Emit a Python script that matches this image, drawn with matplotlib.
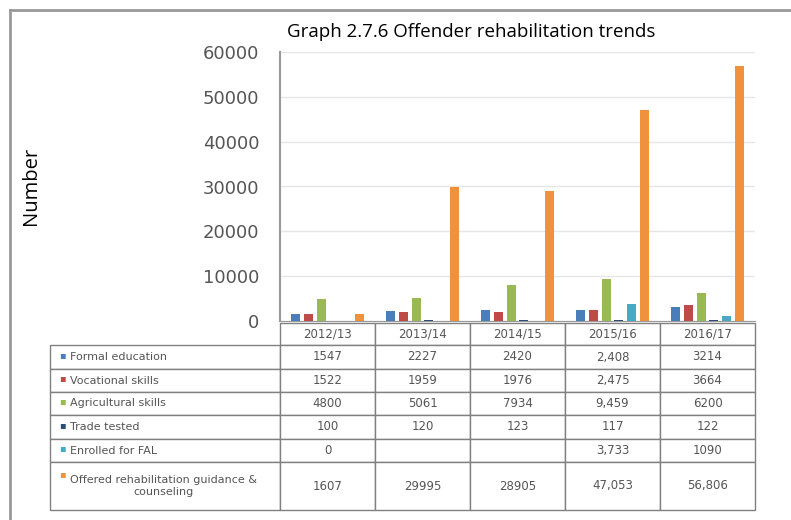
import numpy as np
import matplotlib.pyplot as plt
from matplotlib.lines import Line2D

years = ['2012/13', '2013/14', '2014/15', '2015/16', '2016/17']
series = ['Formal education', 'Vocational skills', 'Agricultural skills',
          'Trade tested', 'Enrolled for FAL',
          'Offered rehabilitation guidance &\ncounseling']
formal_education = [1547, 2227, 2420, 2408, 3214]
vocational_skills = [1522, 1959, 1976, 2475, 3664]
agricultural_skills = [4800, 5061, 7934, 9459, 6200]
trade_tested = [100, 120, 123, 117, 122]
enrolled_fal = [0, np.nan, np.nan, 3733, 1090]
offered_guidance = [1607, 29995, 28905, 47053, 56806]
# table text as printed in the source
table_text = [
    ['1547', '2227', '2420', '2,408', '3214'],
    ['1522', '1959', '1976', '2,475', '3664'],
    ['4800', '5061', '7934', '9,459', '6200'],
    ['100', '120', '123', '117', '122'],
    ['0', '', '', '3,733', '1090'],
    ['1607', '29995', '28905', '47,053', '56,806'],
]
colors = ['#4A7EBB', '#BE4B48', '#98B954', '#2C4D75', '#46AAC5', '#F0923D']

values = [formal_education, vocational_skills, agricultural_skills,
          trade_tested, enrolled_fal, offered_guidance]

fig = plt.figure(figsize=(7.91, 5.2), dpi=100)
ax = fig.add_axes([280 / 791, 1 - 321 / 520, 475 / 791, 269 / 520])

x = np.arange(len(years))
step = 0.133
width = 0.095
for i, (vals, c) in enumerate(zip(values, colors)):
    ax.bar(x + (i - 2.5) * step, vals, width=width, color=c, zorder=3)

ax.set_xlim(-0.5, len(years) - 0.5)
ax.set_ylim(0, 60000)
ax.set_yticks(np.arange(0, 60001, 10000))
ax.tick_params(axis='y', labelsize=13, colors='#555555', length=0, pad=15)
ax.set_xticks([])
ax.grid(axis='y', color='#e6e6e6', linewidth=1, zorder=0)
for s in ['top', 'right']:
    ax.spines[s].set_visible(False)
ax.spines['left'].set_color('#999999')
ax.spines['left'].set_linewidth(1.5)
ax.spines['bottom'].set_color('#999999')

# data table under the axis
tbl = ax.table(cellText=[[lab] + row for lab, row in zip(series, table_text)],
               colLabels=[''] + years,
               colWidths=[230 / 705] + [95 / 705] * 5,
               cellLoc='center',
               bbox=[-230 / 475, -189 / 269, 705 / 475, 187 / 269])
tbl.auto_set_font_size(False)
row_h = [22, 24, 23, 23, 24, 23, 48]
for (r, c), cell in tbl.get_celld().items():
    cell.set_height(row_h[r] / 187)
    cell.set_edgecolor('#808080')
    cell.set_linewidth(1.0)
    txt = cell.get_text()
    txt.set_fontsize(8.5)
    txt.set_color('#555555')
    if c == 0:
        txt.set_ha('left')
        txt.set_multialignment('center')
        txt.set_fontsize(8)
        cell.PAD = 20 / 230
    if r == 0 and c == 0:
        cell.visible_edges = ''

# legend markers inside the label column
for i, c in enumerate(colors):
    y_center = 321 + 22 + sum(row_h[1:i + 1]) + row_h[i + 1] / 2
    if i == 5:
        y_center -= 10
    fig.text(62 / 791, 1 - y_center / 520, '\u25aa', color=c, fontsize=7,
             ha='center', va='center')

fig.text(471 / 791, 1 - 32 / 520, 'Graph 2.7.6 Offender rehabilitation trends',
         fontsize=13.5, ha='center', va='center', family='Open Sans')
fig.text(31 / 791, 1 - 186 / 520, 'Number', fontsize=14.5, rotation=90,
         ha='center', va='center', family='Open Sans')

# outer frame lines
fig.add_artist(Line2D([10 / 791, 1], [1 - 10 / 520, 1 - 10 / 520],
                      transform=fig.transFigure, color='#999999', linewidth=2))
fig.add_artist(Line2D([10 / 791, 10 / 791], [0, 1 - 10 / 520],
                      transform=fig.transFigure, color='#999999', linewidth=2))

fig.savefig('out.png', dpi=100)
